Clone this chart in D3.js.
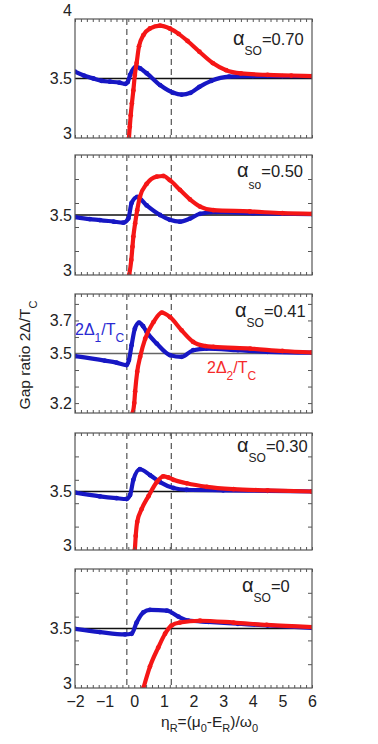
<!DOCTYPE html>
<meta charset="utf-8">
<script src="https://d3js.org/d3.v7.min.js"></script>
<style>
  body { margin: 0; background: #fff; }
  text { font-family: Arial, "Liberation Sans", sans-serif; }
</style>
<body>
<div id="chart"></div>
<script>

// ---- data: [eta_R, gap ratio] ----
var blue070 = [[-2,3.557],[-1.7,3.525],[-1.38,3.50],[-1.1,3.48],[-0.82,3.473],[-0.5,3.465],[-0.3,3.454],[-0.22,3.47],[-0.14,3.53],[0.06,3.60],[0.2,3.585],[0.42,3.544],[0.87,3.445],[1.32,3.38],[1.6,3.365],[1.9,3.38],[2.2,3.43],[2.6,3.48],[3.2,3.515],[4,3.52],[5,3.52],[6,3.52]];
var red070  = [[-0.18,3.0],[-0.15,3.095],[-0.12,3.19],[-0.08,3.29],[-0.03,3.40],[0.02,3.53],[0.08,3.63],[0.16,3.77],[0.31,3.865],[0.53,3.92],[0.87,3.944],[1.2,3.92],[1.5,3.875],[1.8,3.815],[2.2,3.725],[2.65,3.63],[3.1,3.57],[3.6,3.543],[4.5,3.53],[5.3,3.525],[6,3.52]];

var blue050 = [[-2,3.483],[-1.5,3.465],[-1.16,3.458],[-0.7,3.445],[-0.37,3.436],[-0.2,3.47],[-0.09,3.6],[0.1,3.65],[0.42,3.58],[0.87,3.5],[1.2,3.46],[1.54,3.444],[1.88,3.47],[2.22,3.51],[2.78,3.525],[4,3.515],[6,3.508]];
var red050  = [[-0.17,3.0],[-0.1,3.125],[-0.06,3.236],[-0.03,3.32],[0.03,3.43],[0.1,3.54],[0.19,3.65],[0.42,3.76],[0.76,3.82],[0.98,3.825],[1.2,3.79],[1.54,3.71],[1.88,3.63],[2.22,3.57],[2.67,3.54],[3.9,3.53],[5,3.515],[6,3.51]];

var blue041 = [[-2,3.484],[-1,3.457],[-0.6,3.445],[-0.26,3.43],[-0.18,3.46],[-0.09,3.55],[0.02,3.65],[0.16,3.687],[0.3,3.665],[0.42,3.63],[0.76,3.56],[1.21,3.49],[1.6,3.48],[1.99,3.52],[2.44,3.53],[3.5,3.52],[4.5,3.51],[6,3.505]];
var red041  = [[-0.05,3.14],[0.0,3.2],[0.03,3.27],[0.1,3.39],[0.2,3.48],[0.37,3.59],[0.65,3.69],[0.93,3.747],[1.21,3.72],[1.6,3.64],[1.99,3.57],[2.4,3.545],[2.67,3.54],[3.91,3.53],[5,3.515],[6,3.506]];

var blue030 = [[-2,3.49],[-1.16,3.458],[-0.6,3.443],[-0.26,3.436],[-0.14,3.47],[-0.03,3.6],[0.19,3.69],[0.53,3.64],[0.87,3.58],[1.32,3.53],[1.77,3.515],[3,3.51],[4.5,3.505],[6,3.5]];
var red030  = [[0.02,3.0],[0.05,3.12],[0.1,3.24],[0.25,3.35],[0.48,3.46],[0.76,3.58],[0.98,3.63],[1.15,3.62],[1.32,3.6],[1.77,3.57],[2.45,3.54],[3.35,3.52],[4.5,3.51],[6,3.5]];

var blue000 = [[-2,3.497],[-1.16,3.47],[-0.31,3.45],[-0.09,3.456],[0.08,3.55],[0.31,3.636],[0.53,3.656],[1.1,3.65],[1.49,3.6],[1.82,3.567],[2.5,3.555],[3.5,3.54],[4.5,3.525],[6,3.505]];
var red000  = [[0.31,3.0],[0.53,3.18],[0.81,3.34],[1.04,3.456],[1.26,3.525],[1.54,3.55],[2.22,3.565],[3.35,3.55],[4.47,3.53],[6,3.512]];

var alphaValues = ["0.70", "0.50", "0.41", "0.30", "0"];
var alphaSubs   = ["SO", "so", "SO", "SO", "SO"];
var yDomains    = [[3, 4], [3, 4], [3.14, 3.86], [3, 4], [3, 4]];
var yLabels     = [[3, 3.5, 4], [3, 3.5], [3.2, 3.5, 3.7], [3, 3.5], [3, 3.5]];
var yMinorTicks = [[], [3.2, 3.4, 3.6, 3.8], [3.2, 3.3, 3.4, 3.6, 3.7, 3.8], [3.2, 3.4, 3.6, 3.8], [3.2, 3.4, 3.6, 3.8]];
var xTickLabels = [-2, -1, 0, 1, 2, 3, 4, 5, 6];
var dashedAt    = [-0.25, 1.25];
var refLevel    = 3.5;

var blues = [blue070, blue050, blue041, blue030, blue000];
var reds  = [red070, red050, red041, red030, red000];

// ---- layout ----
var panelTop    = [19, 155, 294, 433, 569];
var panelBottom = [138, 275, 413, 550, 688];
var alphaX      = [233, 237, 235, 237, 242];
var alphaY      = [45, 177, 317, 452, 592];
var left = 75, right = 312;
var blueCol = "#1717c4", redCol = "#f51616";

var svg = d3.select("#chart").append("svg")
    .attr("width", 378)
    .attr("height", 744);

var x = d3.scaleLinear().domain([-2, 6]).range([left, right]);
var minorX = d3.range(-2, 6.001, 0.2);

var line = function(y) {
  return d3.line()
    .x(function(d) { return x(d[0]); })
    .y(function(d) { return y(d[1]); })
    .curve(d3.curveMonotoneX);
};

for (var i = 0; i < 5; i++) {
  var y = d3.scaleLinear().domain(yDomains[i]).range([panelBottom[i], panelTop[i]]);
  var g = svg.append("g");

  g.append("clipPath").attr("id", "clip" + i)
    .append("rect")
      .attr("x", left).attr("y", panelTop[i])
      .attr("width", right - left).attr("height", panelBottom[i] - panelTop[i]);

  // dashed guides
  g.selectAll(".dash").data(dashedAt).enter().append("line")
    .attr("x1", function(d) { return x(d); }).attr("x2", function(d) { return x(d); })
    .attr("y1", panelTop[i]).attr("y2", panelBottom[i])
    .attr("stroke", "#444").attr("stroke-width", 1.1)
    .attr("stroke-dasharray", "6,4");

  // 3.5 reference line
  g.append("line")
    .attr("x1", left).attr("x2", right)
    .attr("y1", y(refLevel)).attr("y2", y(refLevel))
    .attr("stroke", i == 2 ? "#666" : "#111").attr("stroke-width", 1.5);

  var plot = g.append("g").attr("clip-path", "url(#clip" + i + ")");
  [[blues[i], blueCol], [reds[i], redCol]].forEach(function(s) {
    plot.append("path")
      .datum(s[0])
      .attr("d", line(y))
      .attr("fill", "none")
      .attr("stroke", s[1])
      .attr("stroke-width", 4.2)
      .attr("stroke-linejoin", "round");
    plot.selectAll(null).data(s[0]).enter().append("circle")
      .attr("cx", function(d) { return x(d[0]); })
      .attr("cy", function(d) { return y(d[1]); })
      .attr("r", 2.4)
      .attr("fill", s[1]);
  });

  // inward ticks
  g.append("g").attr("transform", "translate(0," + panelBottom[i] + ")")
    .call(d3.axisBottom(x).tickValues(minorX).tickSize(-3).tickFormat(""));
  g.append("g").attr("transform", "translate(0," + panelTop[i] + ")")
    .call(d3.axisTop(x).tickValues(minorX).tickSize(-3).tickFormat(""));
  g.append("g").attr("transform", "translate(" + left + ",0)")
    .call(d3.axisLeft(y).tickValues(yMinorTicks[i]).tickSize(-4).tickFormat(""));
  g.append("g").attr("transform", "translate(" + right + ",0)")
    .call(d3.axisRight(y).tickValues(yMinorTicks[i]).tickSize(-4).tickFormat(""));
  g.selectAll(".domain").remove();
  g.selectAll(".tick line").attr("stroke", "#555");

  // frame
  g.append("rect")
    .attr("x", left).attr("y", panelTop[i])
    .attr("width", right - left).attr("height", panelBottom[i] - panelTop[i])
    .attr("fill", "none").attr("stroke", "#555").attr("stroke-width", 1.2);

  // y tick labels
  var dom = yDomains[i];
  g.selectAll(".ylab").data(yLabels[i]).enter().append("text")
    .attr("x", 72)
    .attr("y", function(d) {
      var off = d == dom[0] ? -5 : (d == dom[1] ? -9 : 0);
      return y(d) + off;
    })
    .attr("dy", "0.36em")
    .attr("text-anchor", "end")
    .attr("font-size", 16)
    .attr("fill", "#222")
    .text(function(d) { return d; });

  // alpha label
  var t = g.append("text").attr("x", alphaX[i]).attr("y", alphaY[i]).attr("fill", "#222").attr("font-size", 16.5);
  t.append("tspan").attr("font-size", 20).text("α");
  t.append("tspan").attr("font-size", 12).attr("dy", i == 1 ? 12 : 10).text(alphaSubs[i]);
  t.append("tspan").attr("dy", i == 1 ? -12 : -10).text("=" + alphaValues[i]);
}

// series labels in the 0.41 panel
var lb = svg.append("text").attr("x", 75).attr("y", 335).attr("font-size", 16).attr("fill", "#2a2ad2");
lb.append("tspan").text("2Δ");
lb.append("tspan").attr("font-size", 12).attr("dy", 7).text("1");
lb.append("tspan").attr("dy", -7).text("/T");
lb.append("tspan").attr("font-size", 12).attr("dy", 7).text("C");

var lr = svg.append("text").attr("x", 207).attr("y", 373).attr("font-size", 16).attr("fill", "#f52a2a");
lr.append("tspan").text("2Δ");
lr.append("tspan").attr("font-size", 12).attr("dy", 7).text("2");
lr.append("tspan").attr("dy", -7).text("/T");
lr.append("tspan").attr("font-size", 12).attr("dy", 7).text("C");

// x tick labels under the bottom panel
var xa = svg.append("g").attr("transform", "translate(0," + panelBottom[4] + ")")
  .call(d3.axisBottom(x).tickValues(xTickLabels).tickSize(0).tickPadding(8).tickFormat(d3.format("d")));
xa.select(".domain").remove();
xa.selectAll("text").attr("font-size", 16).attr("fill", "#222")
  .style("font-family", "Arial, 'Liberation Sans', sans-serif");

// axis titles
var xt = svg.append("text").attr("x", 161).attr("y", 727).attr("font-size", 15.5).attr("fill", "#222");
xt.append("tspan").text("η");
xt.append("tspan").attr("font-size", 11).attr("dy", 5).text("R");
xt.append("tspan").attr("dy", -5).text("=(μ");
xt.append("tspan").attr("font-size", 11).attr("dy", 5).text("0");
xt.append("tspan").attr("dy", -5).text("-E");
xt.append("tspan").attr("font-size", 11).attr("dy", 5).text("R");
xt.append("tspan").attr("dy", -5).text(")/ω");
xt.append("tspan").attr("font-size", 11).attr("dy", 5).text("0");

var yt = svg.append("text")
  .attr("transform", "translate(30,355) rotate(-90)")
  .attr("text-anchor", "middle")
  .attr("font-size", 15.5).attr("fill", "#222");
yt.append("tspan").text("Gap ratio 2Δ/T");
yt.append("tspan").attr("font-size", 11).attr("dy", 7).text("C");

</script>
</body>
